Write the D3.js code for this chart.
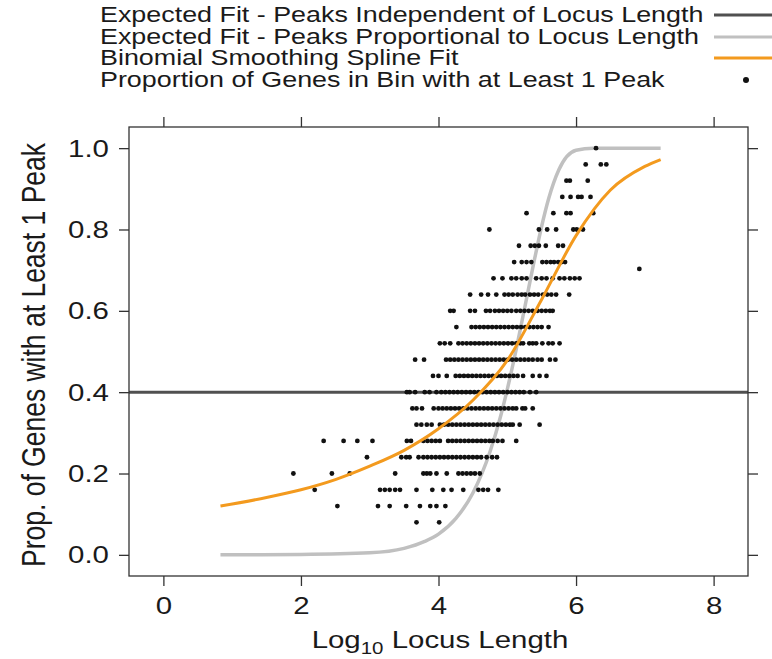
<!DOCTYPE html>
<html>
<head>
<meta charset="utf-8">
<script src="https://cdn.jsdelivr.net/npm/d3@7"></script>
<style>
  body { margin: 0; background: #fff; }
  text { font-family: "Liberation Sans", Arial, sans-serif; fill: #1a1a1a; }
</style>
</head>
<body>
<div id="chart"></div>
<script>
// tick labels
var xTicks = [0, 2, 4, 6, 8];
var yTicks = [0.0, 0.2, 0.4, 0.6, 0.8, 1.0];

// legend entries
var legendLabels = [
  "Expected Fit - Peaks Independent of Locus Length",
  "Expected Fit - Peaks Proportional to Locus Length",
  "Binomial Smoothing Spline Fit",
  "Proportion of Genes in Bin with at Least 1 Peak"
];

// expected fit, peaks independent of locus length
var flatLevel = 0.4;

// expected fit, peaks proportional to locus length
var propX = [0.83, 2.0, 3.0, 3.5, 3.8, 4.0, 4.25, 4.5, 4.75, 4.9, 5.0, 5.1, 5.25, 5.4, 5.5, 5.6, 5.75, 6.0, 6.25, 6.5, 7.23];
var propY = [0.000, 0.001, 0.005, 0.016, 0.033, 0.051, 0.089, 0.152, 0.254, 0.339, 0.407, 0.482, 0.605, 0.730, 0.808, 0.875, 0.947, 0.995, 1.000, 1.000, 1.000];

// binomial smoothing spline fit
var splineX = [0.83, 1.5, 2.0, 2.5, 3.0, 3.5, 4.0, 4.5, 5.0, 5.5, 6.0, 6.5, 7.0, 7.23];
var splineY = [0.120, 0.141, 0.160, 0.185, 0.218, 0.257, 0.310, 0.380, 0.478, 0.628, 0.785, 0.897, 0.955, 0.972];

// proportion of genes in bin with at least 1 peak (one list of log10 lengths per proportion)
var binProps = [1.00, 0.96, 0.92, 0.88, 0.84, 0.80, 0.76, 0.72, 0.703, 0.68, 0.64, 0.60, 0.56, 0.52, 0.48, 0.44, 0.40, 0.36, 0.32, 0.28, 0.24, 0.20, 0.16, 0.12, 0.08];
var binLengths = [
  [6.29],
  [6.14, 6.36, 6.44],
  [5.86, 5.91, 6.17],
  [5.80, 5.92, 6.03, 6.08, 6.21],
  [5.28, 5.67, 5.86, 5.92, 6.25],
  [4.74, 5.46, 5.58, 5.71, 5.96, 6.01, 6.10],
  [5.17, 5.34, 5.40, 5.46, 5.56, 5.74, 5.81],
  [5.10, 5.21, 5.28, 5.35, 5.51, 5.57, 5.63, 5.68, 5.74, 5.79, 5.84],
  [6.92],
  [4.80, 4.93, 5.06, 5.13, 5.21, 5.28, 5.42, 5.50, 5.57, 5.66, 5.76, 5.83, 5.91, 5.98, 6.05],
  [4.46, 4.62, 4.72, 4.84, 4.96, 5.02, 5.08, 5.15, 5.21, 5.26, 5.33, 5.39, 5.45, 5.52, 5.58, 5.64, 5.71, 5.90],
  [4.17, 4.22, 4.46, 4.53, 4.69, 4.75, 4.82, 4.88, 4.94, 5.00, 5.06, 5.13, 5.19, 5.25, 5.31, 5.37, 5.44, 5.50, 5.56, 5.62, 5.66],
  [4.26, 4.48, 4.54, 4.60, 4.66, 4.72, 4.78, 4.84, 4.90, 4.96, 5.02, 5.08, 5.14, 5.20, 5.26, 5.32, 5.38, 5.44, 5.50, 5.60],
  [4.02, 4.09, 4.17, 4.29, 4.35, 4.41, 4.47, 4.53, 4.59, 4.65, 4.71, 4.77, 4.83, 4.89, 4.95, 5.01, 5.07, 5.13, 5.19, 5.23, 5.32, 5.37, 5.42, 5.51, 5.60, 5.66, 5.76],
  [3.66, 3.79, 4.11, 4.17, 4.23, 4.29, 4.35, 4.41, 4.47, 4.53, 4.59, 4.65, 4.71, 4.77, 4.83, 4.89, 4.95, 5.01, 5.07, 5.13, 5.19, 5.25, 5.31, 5.37, 5.44, 5.50, 5.62, 5.70],
  [3.92, 4.00, 4.12, 4.25, 4.31, 4.37, 4.43, 4.49, 4.55, 4.61, 4.67, 4.73, 4.79, 4.85, 4.91, 4.97, 5.03, 5.09, 5.15, 5.23, 5.37, 5.47, 5.57],
  [3.54, 3.58, 3.66, 3.80, 3.87, 3.97, 4.04, 4.10, 4.16, 4.22, 4.28, 4.34, 4.40, 4.46, 4.52, 4.58, 4.64, 4.70, 4.76, 4.82, 4.88, 4.94, 5.00, 5.06, 5.12, 5.18, 5.24, 5.33, 5.42],
  [3.62, 3.68, 3.76, 3.93, 4.00, 4.06, 4.12, 4.18, 4.24, 4.30, 4.36, 4.42, 4.48, 4.54, 4.60, 4.66, 4.72, 4.78, 4.84, 4.90, 4.96, 5.02, 5.08, 5.13, 5.22, 5.26, 5.37],
  [3.68, 3.75, 3.83, 3.90, 4.02, 4.08, 4.14, 4.20, 4.26, 4.32, 4.38, 4.44, 4.50, 4.56, 4.62, 4.68, 4.74, 4.80, 4.86, 4.92, 4.98, 5.04, 5.08, 5.18, 5.47],
  [2.33, 2.62, 2.82, 3.04, 3.54, 3.60, 3.78, 3.84, 3.90, 3.96, 4.02, 4.14, 4.20, 4.26, 4.32, 4.38, 4.44, 4.50, 4.56, 4.62, 4.68, 4.74, 4.79, 4.86, 4.93, 5.13],
  [2.96, 3.46, 3.53, 3.58, 3.71, 3.78, 3.84, 3.90, 3.96, 4.02, 4.08, 4.14, 4.20, 4.26, 4.32, 4.38, 4.44, 4.50, 4.56, 4.62, 4.70, 4.78, 4.85],
  [1.89, 2.45, 2.71, 3.37, 3.78, 3.83, 3.88, 3.97, 4.12, 4.29, 4.35, 4.41, 4.47, 4.53, 4.60],
  [2.20, 3.15, 3.22, 3.29, 3.37, 3.44, 3.68, 3.91, 4.07, 4.19, 4.36, 4.58, 4.65, 4.72, 4.87],
  [2.53, 3.12, 3.29, 3.53, 3.73, 3.88, 3.97, 4.10],
  [3.68, 4.01]
];

var width = 772, height = 659;
var margin = {top: 127, right: 24, bottom: 83, left: 129};
var w = width - margin.left - margin.right,
    h = height - margin.top - margin.bottom;

var sx = 1.28; // the original figure is stretched sideways

var x = d3.scaleLinear().domain([-0.5, 8.5]).range([0, w]);
var y = d3.scaleLinear().domain([-0.052, 1.052]).range([h, 0]);

var svg = d3.select("#chart").append("svg")
    .attr("width", width)
    .attr("height", height);

var g = svg.append("g")
    .attr("transform", "translate(" + margin.left + "," + margin.top + ")");

// clip to the panel
g.append("clipPath").attr("id", "panel")
  .append("rect").attr("width", w).attr("height", h);

var plot = g.append("g").attr("clip-path", "url(#panel)");

// flat expected line
plot.append("line")
    .attr("x1", 0).attr("x2", w)
    .attr("y1", y(flatLevel)).attr("y2", y(flatLevel))
    .attr("stroke", "#505050").attr("stroke-width", 3);

var line = d3.line()
    .x(function(d) { return x(d[0]); })
    .y(function(d) { return y(d[1]); })
    .curve(d3.curveMonotoneX);

// proportional expected curve
plot.append("path")
    .datum(d3.zip(propX, propY))
    .attr("fill", "none")
    .attr("stroke", "#c0c0c0")
    .attr("stroke-width", 3.5)
    .attr("d", line);

// points
var points = [];
binProps.forEach(function(p, i) {
  binLengths[i].forEach(function(l) { points.push([l, p]); });
});
plot.selectAll("circle.pt")
    .data(points)
  .enter().append("circle")
    .attr("class", "pt")
    .attr("cx", function(d) { return x(d[0]); })
    .attr("cy", function(d) { return y(d[1]); })
    .attr("r", 2.4)
    .attr("fill", "#111");

// spline fit
plot.append("path")
    .datum(d3.zip(splineX, splineY))
    .attr("fill", "none")
    .attr("stroke", "#f39a1e")
    .attr("stroke-width", 3)
    .attr("d", line);

// axes, ticks on all four sides
var tickLen = 10;
function styleAxis(sel) {
  sel.select(".domain").remove();
  sel.selectAll(".tick line").attr("stroke", "#333").attr("stroke-width", 1.3);
}

var gx = g.append("g")
    .attr("transform", "translate(0," + h + ")")
    .call(d3.axisBottom(x).tickValues(xTicks).tickSize(tickLen).tickFormat(d3.format("d")))
    .call(styleAxis);
gx.selectAll(".tick text")
    .attr("y", null).attr("dy", null)
    .attr("transform", "translate(0,38) scale(" + sx + ",1)")
    .style("font-size", "23px")
    .attr("fill", "#1a1a1a");

var gy = g.append("g")
    .call(d3.axisLeft(y).tickValues(yTicks).tickSize(tickLen).tickFormat(d3.format(".1f")))
    .call(styleAxis);
gy.selectAll(".tick text")
    .attr("x", null).attr("dy", "0.35em")
    .attr("transform", "translate(-20,0) scale(" + sx + ",1)")
    .style("font-size", "23px")
    .attr("fill", "#1a1a1a");

g.append("g")
    .call(d3.axisTop(x).tickValues(xTicks).tickSize(tickLen).tickFormat(""))
    .call(styleAxis);
g.append("g")
    .attr("transform", "translate(" + w + ",0)")
    .call(d3.axisRight(y).tickValues(yTicks).tickSize(tickLen).tickFormat(""))
    .call(styleAxis);

// panel frame
g.append("rect")
    .attr("width", w).attr("height", h)
    .attr("fill", "none")
    .attr("stroke", "#333").attr("stroke-width", 1.3);

// axis titles
var xt = svg.append("text")
    .attr("text-anchor", "middle")
    .attr("transform", "translate(440,648) scale(" + sx + ",1)")
    .style("font-size", "23px");
xt.append("tspan").text("Log");
xt.append("tspan").attr("dy", 6).style("font-size", "16px").text("10");
xt.append("tspan").attr("dy", -6).text(" Locus Length");

svg.append("text")
    .attr("text-anchor", "middle")
    .attr("transform", "translate(45,355) scale(" + sx + ",1) rotate(-90)")
    .style("font-size", "26.5px")
    .text("Prop. of Genes with at Least 1 Peak");

// legend
var legendY = [22, 44, 65, 87];
var legend = svg.append("g");
legend.selectAll("text")
    .data(legendLabels)
  .enter().append("text")
    .attr("transform", function(d, i) { return "translate(100," + legendY[i] + ") scale(1.25,1)"; })
    .style("font-size", "21.5px")
    .text(function(d) { return d; });

var legendStroke = ["#505050", "#c0c0c0", "#f39a1e"];
legendStroke.forEach(function(c, i) {
  legend.append("line")
    .attr("x1", 714).attr("x2", 772)
    .attr("y1", legendY[i] - 7).attr("y2", legendY[i] - 7)
    .attr("stroke", c).attr("stroke-width", 3);
});
legend.append("circle")
    .attr("cx", 746).attr("cy", legendY[3] - 7)
    .attr("r", 3).attr("fill", "#111");
</script>
</body>
</html>
